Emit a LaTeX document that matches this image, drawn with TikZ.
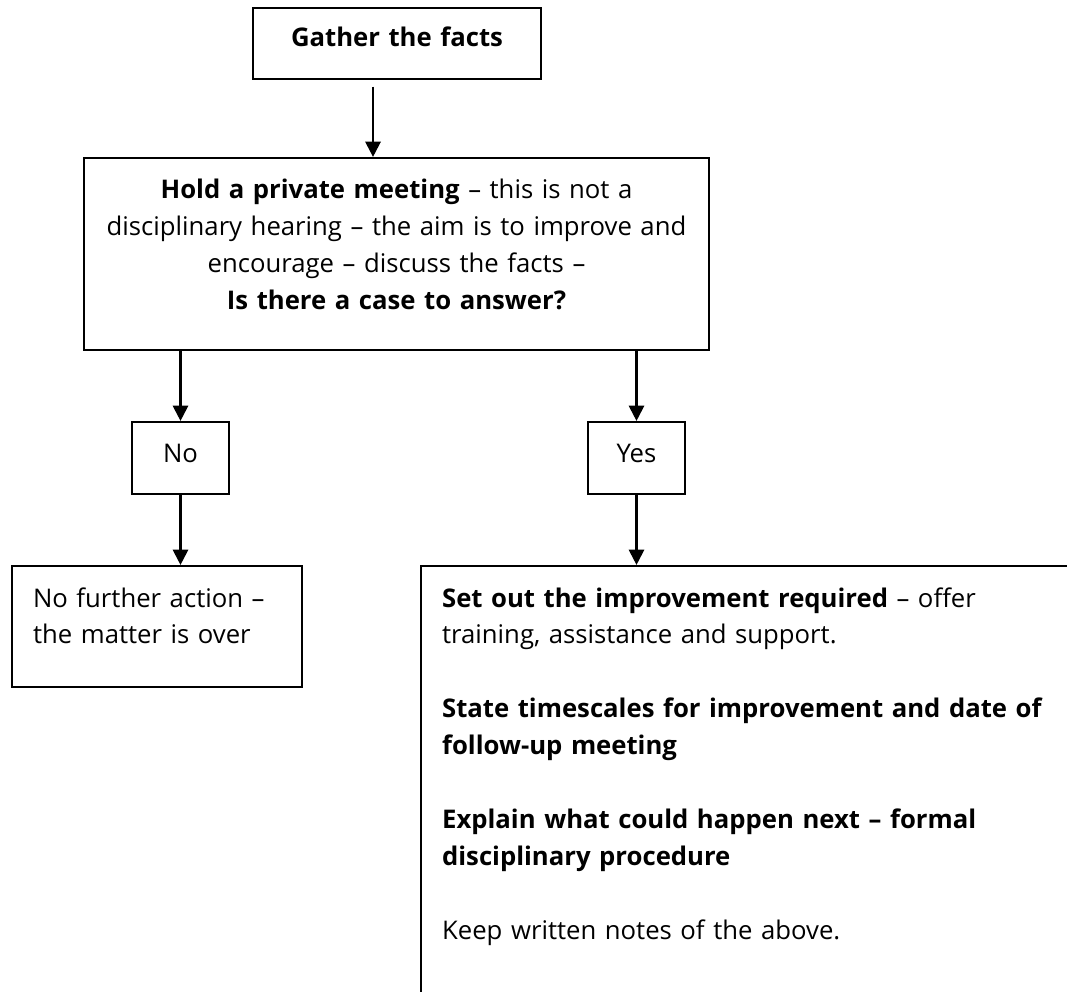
\documentclass[tikz,border=0pt]{standalone}
\usepackage{fontspec}
\setmainfont{Open Sans}
\usetikzlibrary{arrows.meta,positioning}
\tikzset{
    box/.style = {draw, line width=1pt, inner sep=0pt, anchor=base, font=\fontsize{11.7pt}{16.8pt}\selectfont},
    arr/.style = {-{Triangle[width=7pt,length=7pt]}, line width=1pt}
}

\begin{document}
\begin{tikzpicture}[x=0.016cm, y=-0.016cm]
  \useasboundingbox (0,0) rectangle (1067,992);

  \node[box, text width=4.608cm, align=center, text height=0.624cm, text depth=0.512cm] (gather) at (397,47) {\textbf{Gather the facts}};
  \node[box, text width=10cm, align=center, text height=0.656cm, text depth=2.416cm] (meeting) at (396.5,199)
    {\textbf{Hold a private meeting} – this is not a\\ disciplinary hearing – the aim is to improve and\\ encourage – discuss the facts –\\ \textbf{Is there a case to answer?}};

  \node[box, text width=1.552cm, align=center, text height=0.64cm, text depth=0.512cm] (no) at (180.5,462) {No};
  \node[box, text width=1.552cm, align=center, text height=0.64cm, text depth=0.512cm] (yes) at (636.5,462) {Yes};

  \node[box, text width=3.968cm, inner xsep=0.336cm, align=left, text height=0.656cm, text depth=1.28cm] (nofurther) at (157,607)
    {No further action –\\ the matter is over};
  \node[box, text width=11.2cm, inner xsep=0.336cm, align=left, text height=0.656cm, text depth=6.768cm] (action) at (792,607)
    {\textbf{Set out the improvement required} – offer\\ training, assistance and support.\\[16.8pt]
     \textbf{State timescales for improvement and date of}\\ \textbf{follow-up meeting}\\[16.8pt]
     \textbf{Explain what could happen next – formal}\\ \textbf{disciplinary procedure}\\[16.8pt]
     Keep written notes of the above.};

  % connectors
  \draw[arr, shorten <=3pt] ([xshift=-0.384cm]gather.south) -- ([xshift=-0.384cm]gather.south |- meeting.north);
  \draw[arr] (meeting.south -| no.north) -- (no.north);
  \draw[arr] (meeting.south -| yes.north) -- (yes.north);
  \draw[arr] (no.south) -- (no.south |- nofurther.north);
  \draw[arr] (yes.south) -- (yes.south |- action.north);
\end{tikzpicture}
\end{document}
